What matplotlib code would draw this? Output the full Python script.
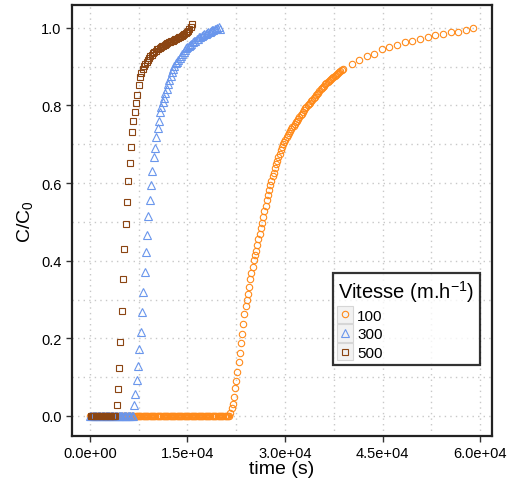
import numpy as np
import matplotlib
matplotlib.use("Agg")
import matplotlib.pyplot as plt
from matplotlib.ticker import MultipleLocator, FuncFormatter
from matplotlib.legend_handler import HandlerLine2D
from matplotlib.patches import Rectangle

plt.rcParams['font.family'] = ['Liberation Sans', 'DejaVu Sans']
plt.rcParams['mathtext.default'] = 'regular'

# vitesse 100 m/h : dense sampling (180 s) then sparse tail
dt100 = 180
n_zero100 = 120
rise100 = [0.008, 0.020, 0.032, 0.048, 0.072, 0.091, 0.113, 0.139, 0.162, 0.187,
           0.210, 0.236, 0.262, 0.283, 0.299, 0.315, 0.333, 0.352, 0.367, 0.385,
           0.402, 0.414, 0.426, 0.441, 0.456, 0.470, 0.484, 0.498, 0.512, 0.527,
           0.542, 0.556, 0.569, 0.582, 0.595, 0.606, 0.617, 0.627, 0.638, 0.648,
           0.658, 0.667, 0.676, 0.684, 0.692, 0.700, 0.706, 0.712, 0.718, 0.723,
           0.728, 0.734, 0.739, 0.744, 0.748, 0.752, 0.757, 0.761, 0.766, 0.770,
           0.775, 0.779, 0.784, 0.788, 0.792, 0.796, 0.800, 0.804, 0.807, 0.811,
           0.815, 0.818, 0.822, 0.826, 0.829, 0.833, 0.837, 0.841, 0.845, 0.848,
           0.851, 0.854, 0.857, 0.860, 0.863, 0.866, 0.868, 0.871, 0.874, 0.876,
           0.879, 0.881, 0.884, 0.886, 0.889, 0.891, 0.893]
tail100_t = [40260, 41380, 42570, 43700, 44920, 46050, 47230, 48410, 49580,
             50770, 51950, 53120, 54310, 55490, 56660, 57800, 58970]
tail100_c = [0.907, 0.916, 0.927, 0.933, 0.946, 0.950, 0.956, 0.963, 0.967,
             0.970, 0.976, 0.980, 0.985, 0.989, 0.990, 0.995, 0.999]

# vitesse 300 m/h : 200 s sampling
dt300 = 200
n_zero300 = 34
rise300 = [0.029, 0.057, 0.093, 0.130, 0.172, 0.217, 0.269, 0.319, 0.372, 0.423,
           0.467, 0.516, 0.557, 0.594, 0.632, 0.666, 0.690, 0.718, 0.742, 0.761,
           0.783, 0.795, 0.808, 0.820, 0.831, 0.842, 0.855, 0.866, 0.876, 0.886,
           0.894, 0.902, 0.908, 0.913, 0.918, 0.923, 0.928, 0.933, 0.938, 0.943,
           0.947, 0.950, 0.953, 0.956, 0.959, 0.962, 0.965, 0.967, 0.970, 0.972,
           0.975, 0.977, 0.979, 0.981, 0.983, 0.985, 0.986, 0.988, 0.989, 0.991,
           0.993, 0.994, 0.996, 0.998, 1.000, 1.002, 0.998]

# vitesse 500 m/h : 200 s sampling, offset 100 s
t0_500 = 100
dt500 = 200
n_zero500 = 20
rise500 = [0.029, 0.070, 0.124, 0.191, 0.271, 0.354, 0.430, 0.495, 0.550, 0.606,
           0.651, 0.694, 0.732, 0.761, 0.784, 0.806, 0.828, 0.852, 0.872, 0.884,
           0.894, 0.901, 0.907, 0.912, 0.917, 0.922, 0.927, 0.931, 0.935, 0.938,
           0.941, 0.944, 0.946, 0.948, 0.950, 0.952, 0.954, 0.956, 0.958, 0.960,
           0.962, 0.964, 0.965, 0.967, 0.968, 0.970, 0.972, 0.973, 0.975, 0.977,
           0.979, 0.981, 0.983, 0.986, 0.989, 0.992, 0.997, 1.003, 1.010]

c100 = [0.0] * n_zero100 + rise100
t100 = list(np.arange(len(c100)) * dt100) + tail100_t
c100 = c100 + tail100_c

c300 = [0.0] * n_zero300 + rise300
t300 = np.arange(len(c300)) * dt300

c500 = [0.0] * n_zero500 + rise500
t500 = t0_500 + np.arange(len(c500)) * dt500


# legend key with grey box like ggplot
class KeyBox(HandlerLine2D):
    def create_artists(self, legend, orig_handle, xdescent, ydescent, width, height, fontsize, trans):
        arts = super().create_artists(legend, orig_handle, xdescent, ydescent, width, height, fontsize, trans)
        rect = Rectangle((-xdescent - 1, -ydescent - 2.5), width + 2, height + 5,
                         facecolor='#F2F2F2', edgecolor='#D6D6D6', lw=0.8, transform=trans)
        return [rect] + list(arts)


fig = plt.figure(figsize=(5.1, 4.85), dpi=100)
ax = fig.add_axes([0.141, 0.099, 0.824, 0.889])

ms = 4.6
mew = 0.8
ax.plot(t100, c100, 'o', mfc='none', mec='#FF8A1A', ms=ms, mew=mew, label='100', zorder=3)
ax.plot(t300, c300, '^', mfc='none', mec='#6A96EC', ms=ms + 0.6, mew=mew, label='300', zorder=4)
ax.plot(t500, c500, 's', mfc='none', mec='#8B4513', ms=ms - 0.3, mew=mew, label='500', zorder=5)

ax.set_xlim(-2770, 61850)
ax.set_ylim(-0.0515, 1.059)
ax.xaxis.set_major_locator(MultipleLocator(15000))
ax.xaxis.set_minor_locator(MultipleLocator(7500))
ax.yaxis.set_major_locator(MultipleLocator(0.2))
ax.yaxis.set_minor_locator(MultipleLocator(0.1))
ax.xaxis.set_major_formatter(FuncFormatter(lambda v, p: f"{v:.1e}"))
ax.yaxis.set_major_formatter(FuncFormatter(lambda v, p: f"{v:.1f}"))

ax.grid(which='both', color='#C8C8C8', linestyle=(0, (1, 3)), linewidth=1.0, zorder=0)
ax.set_axisbelow(True)
ax.tick_params(which='major', length=4, width=1, color='#333333', labelsize=10.5, labelcolor='black')
ax.tick_params(which='minor', length=0)
for s in ax.spines.values():
    s.set_linewidth(1.6)
    s.set_color('#222222')

ax.set_xlabel('time (s)', fontsize=14, labelpad=0)
ax.set_ylabel('C/C$_0$', fontsize=14, labelpad=4)

leg = ax.legend(title='Vitesse (m.h$^{-1}$)', loc='upper left', bbox_to_anchor=(0.621, 0.378),
                borderaxespad=0, fontsize=11, title_fontsize=14.5, frameon=True, fancybox=False,
                handletextpad=0.35, handlelength=0.9, borderpad=0.35, labelspacing=0.3,
                alignment='left', handler_map={matplotlib.lines.Line2D: KeyBox()})
leg.get_frame().set_edgecolor('black')
leg.get_frame().set_linewidth(1.6)

fig.savefig('out.png', dpi=100)
